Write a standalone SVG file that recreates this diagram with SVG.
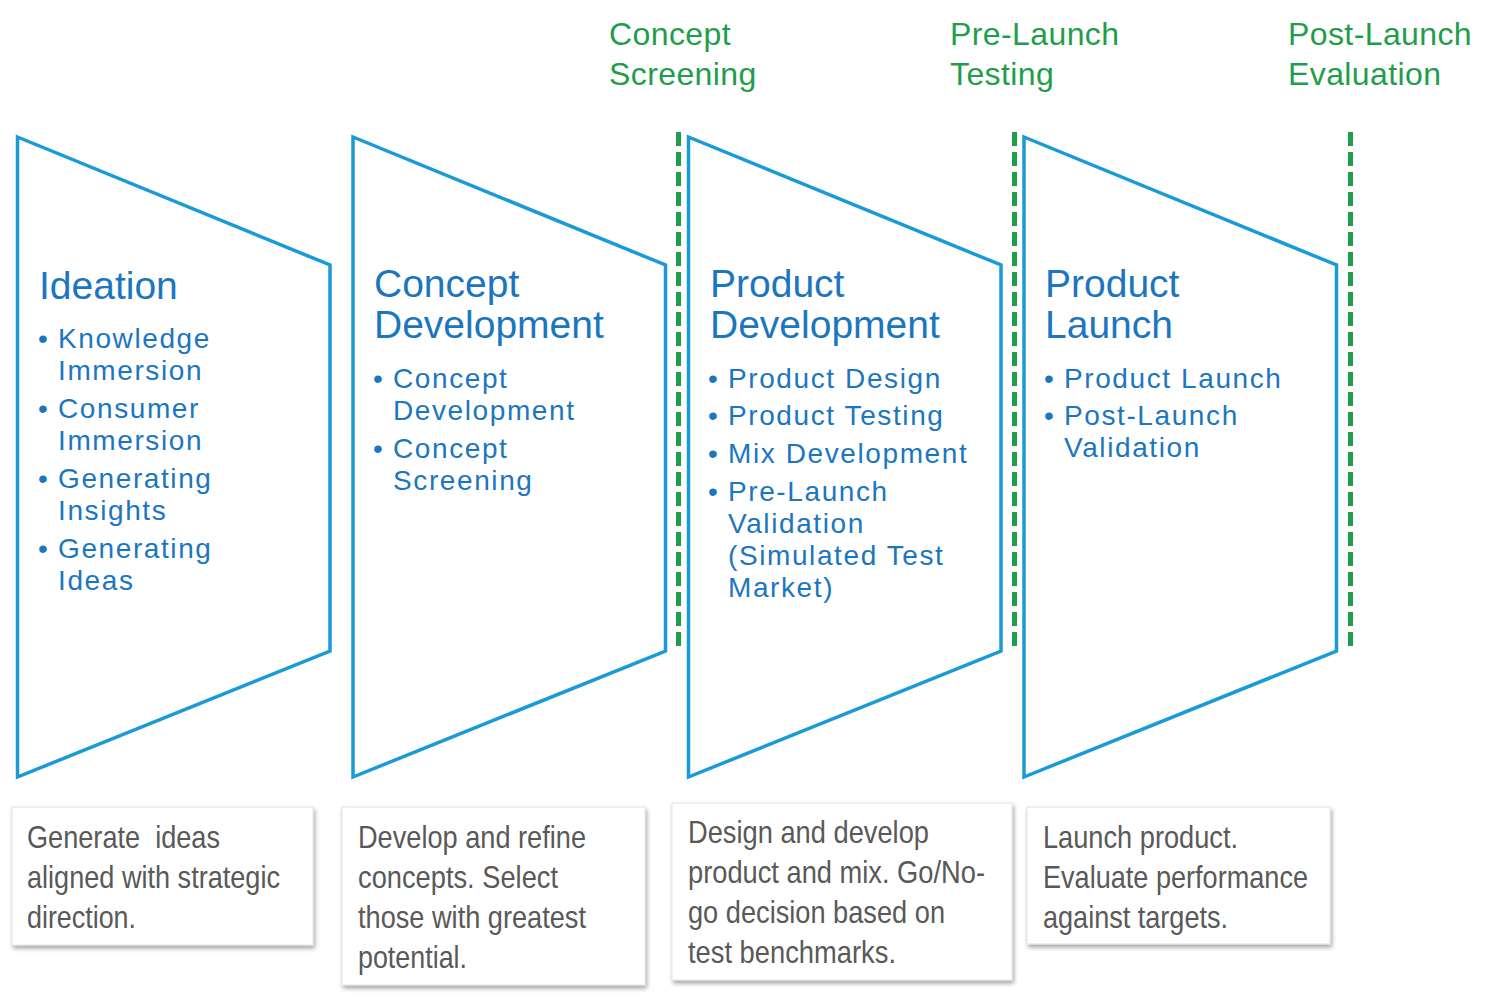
<svg xmlns="http://www.w3.org/2000/svg" width="1503" height="1005" viewBox="0 0 1503 1005">
<style>
.stage{fill:#ffffff;stroke:#1a9ad6;stroke-width:3.5;stroke-linejoin:miter}
.title{font-family:"Liberation Sans",Arial,sans-serif;font-size:39px;fill:#1c76bf}
.bul{font-family:"Liberation Sans",Arial,sans-serif;font-size:28px;fill:#1c76bf;letter-spacing:1.6px}
.gate{font-family:"Liberation Sans",Arial,sans-serif;font-size:32px;fill:#1f9e4a;letter-spacing:0.4px}
.gline{stroke:#1f9e4a;stroke-width:5;stroke-dasharray:14 6;fill:none}
.box{fill:#ffffff;stroke:#e2e2e2;stroke-width:1;filter:url(#sh)}
.desc{font-family:"Liberation Sans",Arial,sans-serif;font-size:32px;fill:#595959}
</style>
<defs>
<filter id="sh" x="-10%" y="-10%" width="125%" height="130%">
<feDropShadow dx="1.5" dy="3" stdDeviation="2" flood-color="#000" flood-opacity="0.35"/>
</filter>
</defs>
<rect width="1503" height="1005" fill="#ffffff"/>

<g id="connectors">
<line class="gline" x1="678.5" y1="132" x2="678.5" y2="647"/>
<line class="gline" x1="1014.5" y1="132" x2="1014.5" y2="647"/>
<line class="gline" x1="1350.5" y1="132" x2="1350.5" y2="647"/>
</g>

<g id="gate-concept-screening">
<text class="gate" x="609" y="45">Concept</text>
<text class="gate" x="609" y="85">Screening</text>
</g>
<g id="gate-pre-launch-testing">
<text class="gate" x="950" y="45">Pre-Launch</text>
<text class="gate" x="950" y="85">Testing</text>
</g>
<g id="gate-post-launch-evaluation">
<text class="gate" x="1288" y="45">Post-Launch</text>
<text class="gate" x="1288" y="85">Evaluation</text>
</g>

<g id="ideation">
<polygon class="stage" points="17.5,137 330,265 330,651 17.5,777"/>
<text class="title" x="39" y="299">Ideation</text>
<text class="bul" x="38" y="348">•</text><text class="bul" x="58" y="348">Knowledge</text>
<text class="bul" x="58" y="380">Immersion</text>
<text class="bul" x="38" y="418">•</text><text class="bul" x="58" y="418">Consumer</text>
<text class="bul" x="58" y="450">Immersion</text>
<text class="bul" x="38" y="488">•</text><text class="bul" x="58" y="488">Generating</text>
<text class="bul" x="58" y="520">Insights</text>
<text class="bul" x="38" y="558">•</text><text class="bul" x="58" y="558">Generating</text>
<text class="bul" x="58" y="590">Ideas</text>
</g>

<g id="concept-development">
<polygon class="stage" points="353,137 665.5,265 665.5,651 353,777"/>
<text class="title" x="374" y="297">Concept</text>
<text class="title" x="374" y="338">Development</text>
<text class="bul" x="373" y="388">•</text><text class="bul" x="393" y="388">Concept</text>
<text class="bul" x="393" y="420">Development</text>
<text class="bul" x="373" y="458">•</text><text class="bul" x="393" y="458">Concept</text>
<text class="bul" x="393" y="490">Screening</text>
</g>

<g id="product-development">
<polygon class="stage" points="688.5,137 1001,265 1001,651 688.5,777"/>
<text class="title" x="710" y="297">Product</text>
<text class="title" x="710" y="338">Development</text>
<text class="bul" x="708" y="388">•</text><text class="bul" x="728" y="388">Product Design</text>
<text class="bul" x="708" y="425">•</text><text class="bul" x="728" y="425">Product Testing</text>
<text class="bul" x="708" y="463">•</text><text class="bul" x="728" y="463">Mix Development</text>
<text class="bul" x="708" y="501">•</text><text class="bul" x="728" y="501">Pre-Launch</text>
<text class="bul" x="728" y="533">Validation</text>
<text class="bul" x="728" y="565">(Simulated Test</text>
<text class="bul" x="728" y="597">Market)</text>
</g>

<g id="product-launch">
<polygon class="stage" points="1024,137 1336.5,265 1336.5,651 1024,777"/>
<text class="title" x="1045" y="297">Product</text>
<text class="title" x="1045" y="338">Launch</text>
<text class="bul" x="1044" y="388">•</text><text class="bul" x="1064" y="388">Product Launch</text>
<text class="bul" x="1044" y="425">•</text><text class="bul" x="1064" y="425">Post-Launch</text>
<text class="bul" x="1064" y="457">Validation</text>
</g>

<g id="desc-ideation">
<rect class="box" x="12" y="807" width="301" height="138"/>
<text class="desc" x="27" y="848" textLength="193" lengthAdjust="spacingAndGlyphs" xml:space="preserve">Generate  ideas</text>
<text class="desc" x="27" y="888" textLength="253" lengthAdjust="spacingAndGlyphs">aligned with strategic</text>
<text class="desc" x="27" y="928" textLength="109" lengthAdjust="spacingAndGlyphs">direction.</text>
</g>

<g id="desc-concept">
<rect class="box" x="342" y="807" width="303" height="178"/>
<text class="desc" x="358" y="848" textLength="228" lengthAdjust="spacingAndGlyphs">Develop and refine</text>
<text class="desc" x="358" y="888" textLength="200" lengthAdjust="spacingAndGlyphs">concepts. Select</text>
<text class="desc" x="358" y="928" textLength="228" lengthAdjust="spacingAndGlyphs">those with greatest</text>
<text class="desc" x="358" y="968" textLength="109" lengthAdjust="spacingAndGlyphs">potential.</text>
</g>

<g id="desc-product">
<rect class="box" x="672" y="803" width="340" height="177"/>
<text class="desc" x="688" y="843" textLength="241" lengthAdjust="spacingAndGlyphs">Design and develop</text>
<text class="desc" x="688" y="883" textLength="297" lengthAdjust="spacingAndGlyphs">product and mix. Go/No-</text>
<text class="desc" x="688" y="923" textLength="257" lengthAdjust="spacingAndGlyphs">go decision based on</text>
<text class="desc" x="688" y="963" textLength="208" lengthAdjust="spacingAndGlyphs">test benchmarks.</text>
</g>

<g id="desc-launch">
<rect class="box" x="1027" y="807" width="303" height="137"/>
<text class="desc" x="1043" y="848" textLength="195" lengthAdjust="spacingAndGlyphs">Launch product.</text>
<text class="desc" x="1043" y="888" textLength="265" lengthAdjust="spacingAndGlyphs">Evaluate performance</text>
<text class="desc" x="1043" y="928" textLength="185" lengthAdjust="spacingAndGlyphs">against targets.</text>
</g>
</svg>
